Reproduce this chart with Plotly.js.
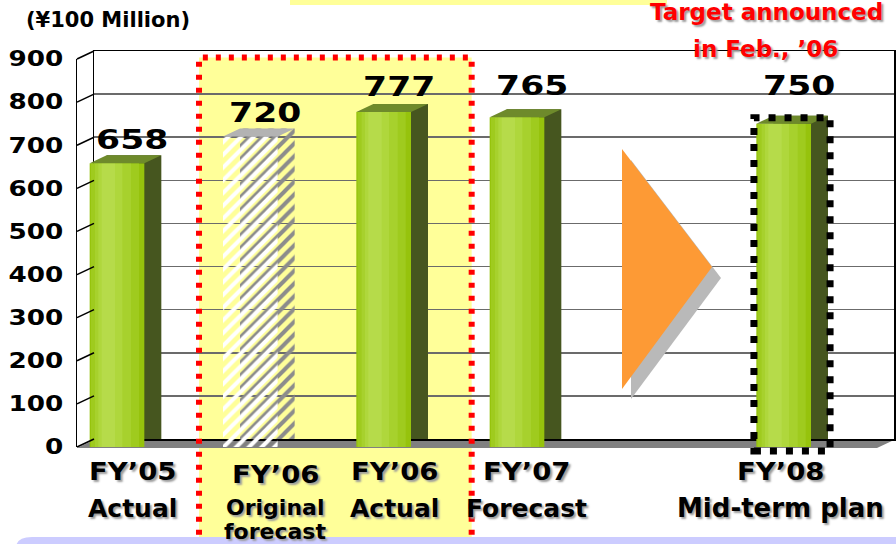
<!DOCTYPE html>
<html>
<head>
<meta charset="utf-8">
<script src="https://cdn.plot.ly/plotly-3.0.1.min.js"></script>
<style>
html,body{margin:0;padding:0;background:#fff;overflow:hidden}
#chart{width:896px;height:544px}
</style>
</head>
<body>
<div id="chart"></div>
<script>
// ---------------- data ----------------
const categories = ["FY’05 Actual", "FY’06 Original forecast", "FY’06 Actual", "FY’07 Forecast", "FY’08 Mid-term plan"];
const labelLine1 = ["FY’05", "FY’06", "FY’06", "FY’07", "FY’08"];
const labelLine2 = ["Actual", "Original", "Actual", "Forecast", "Mid-term plan"];
const labelLine3 = ["", "forecast", "", "", ""];
const values = [658, 720, 777, 765, 750];
const hatched = [false, true, false, false, false];
const yTicks = [0, 100, 200, 300, 400, 500, 600, 700, 800, 900];
const unitLabel = "(¥100 Million)";
const noteLines = ["Target announced", "in Feb., ’06"];

// ---------------- style / layout ----------------
const W = 896, H = 544;
const L = 77, R = 877, B = 447, T = 59;   // front plane (px)
const DX = 17, DY = 8;                     // depth offset (px)
const YMAX = 900;
const BARW = 0.41;
const FONT = "DejaVu Sans, Verdana, sans-serif";
const fx = px => px / W;
const fy = py => 1 - py / H;
const yFrontPx = v => B - v * (B - T) / YMAX;
const labelNudge = [15, 25, 11, 9, -3];
const valueLift = [24, 24, 26, 32, 38];

const slotOrder = categories.slice(0, 4).concat(["(arrow)"], categories.slice(4));
const slotIndex = c => slotOrder.indexOf(c);
const barHalfPx = BARW * (R - L) / slotOrder.length / 2;

const traces = [];
// back / side faces on the back (depth-shifted) subplot
traces.push({
  type: 'bar', x: categories, y: values, xaxis: 'x', yaxis: 'y', width: BARW,
  marker: {
    color: hatched.map(h => h ? '#8c8c8c' : '#46561f'),
    line: {width: 0},
    pattern: {shape: hatched.map(h => h ? '/' : ''), fgcolor: '#7a9a16', bgcolor: '#8c8c8c', size: 9, solidity: 0.45, fillmode: 'replace'}
  },
  hoverinfo: 'skip'
});
// front faces: base
traces.push({
  type: 'bar', x: categories, y: values, xaxis: 'x2', yaxis: 'y2', width: BARW,
  marker: {
    color: hatched.map(h => h ? '#ffffff' : '#96c30c'),
    line: {width: 0},
    pattern: {shape: hatched.map(h => h ? '/' : ''), fgcolor: '#99cc00', bgcolor: '#ffffff', size: 9, solidity: 0.45, fillmode: 'replace'}
  },
  hoverinfo: 'skip'
});
// front faces: gradient highlight layers
const gradLayers = [
  {w: 0.36, off: -0.195, c: '#9fcb1e'},
  {w: 0.27, off: -0.165, c: '#a7d12d'},
  {w: 0.18, off: -0.14, c: '#afd73c'},
  {w: 0.10, off: -0.115, c: '#b6db4a'}
];
gradLayers.forEach(g => {
  traces.push({
    type: 'bar', x: categories, y: values.map((v, i) => hatched[i] ? null : v),
    xaxis: 'x2', yaxis: 'y2', width: g.w, offset: g.off,
    marker: {color: g.c, line: {width: 0}}, hoverinfo: 'skip'
  });
});

const shapes = [];
// top yellow strip
shapes.push({type: 'rect', xref: 'paper', yref: 'paper', x0: fx(290), x1: fx(667), y0: fy(5), y1: fy(-5),
  fillcolor: '#ffff99', line: {width: 0}, layer: 'below'});
// yellow highlight behind FY'06 bars
const hiX0 = slotIndex(categories[1]) - 0.385, hiX1 = slotIndex(categories[2]) + 0.66;
shapes.push({type: 'rect', xref: 'x2', yref: 'paper', x0: hiX0, x1: hiX1, y0: fy(560), y1: fy(57.5),
  fillcolor: '#ffff99', line: {width: 0}, layer: 'below'});
// floor
shapes.push({type: 'path', xref: 'paper', yref: 'paper', layer: 'below',
  path: `M ${fx(L)},${fy(B + 1)} L ${fx(R)},${fy(B + 1)} L ${fx(R + DX)},${fy(B + 1 - DY)} L ${fx(L + DX)},${fy(B + 1 - DY)} Z`,
  fillcolor: '#808080', line: {width: 0}});
// bar top faces (parallelograms anchored on each bar's value)
categories.forEach((c, i) => {
  shapes.push({type: 'path', xref: 'x2', yref: 'y2', xsizemode: 'pixel', ysizemode: 'pixel',
    xanchor: c, yanchor: values[i], layer: 'above',
    path: `M ${-barHalfPx},0 L ${barHalfPx},0 L ${barHalfPx + DX},${DY} L ${-barHalfPx + DX},${DY} Z`,
    fillcolor: hatched[i] ? '#b3b3b3' : '#6e8a2b', line: {width: 0}});
});
// left wall tick connectors
yTicks.forEach(v => {
  const py = yFrontPx(v);
  shapes.push({type: 'line', xref: 'paper', yref: 'paper', x0: fx(L), y0: fy(py), x1: fx(L + DX), y1: fy(py - DY),
    line: {color: '#000', width: 1.5}, layer: 'above'});
});
// arrow shadow + arrow
shapes.push({type: 'path', xref: 'paper', yref: 'paper', layer: 'above',
  path: `M ${fx(631)},${fy(160)} L ${fx(721)},${fy(278)} L ${fx(631)},${fy(399)} Z`,
  fillcolor: '#b9b9b9', line: {width: 0}});
shapes.push({type: 'path', xref: 'paper', yref: 'paper', layer: 'above',
  path: `M ${fx(622)},${fy(149)} L ${fx(712)},${fy(267)} L ${fx(622)},${fy(389)} Z`,
  fillcolor: '#fd9a35', line: {width: 0}});
// red dotted border
shapes.push({type: 'rect', xref: 'x2', yref: 'paper', x0: hiX0, x1: hiX1, y0: fy(600), y1: fy(57.5),
  fillcolor: 'rgba(0,0,0,0)', line: {color: '#ff0000', width: 6, dash: '5px,8px'}, layer: 'above'});
// black dotted border around mid-term plan bar
const mtIdx = slotIndex(categories[4]);
shapes.push({type: 'rect', xref: 'x2', yref: 'paper', x0: mtIdx - 0.223, x1: mtIdx + 0.348,
  y0: fy(B + 4), y1: fy(yFrontPx(values[4]) - 6),
  fillcolor: 'rgba(0,0,0,0)', line: {color: '#000000', width: 7, dash: '7px,9px'}, layer: 'above'});
// bottom lavender box
shapes.push({type: 'path', xref: 'paper', yref: 'paper', layer: 'above',
  path: `M ${fx(16)},${fy(560)} L ${fx(16)},${fy(548)} Q ${fx(16)},${fy(537)} ${fx(32)},${fy(537)} L ${fx(910)},${fy(537)} L ${fx(910)},${fy(560)} Z`,
  fillcolor: '#ccccff', line: {width: 0}});

const annotations = [];
const shadow = '2px 2px 2px #9c9c9c';
const fyIdx = [], valueIdx = [];
// category labels
categories.forEach((c, i) => {
  const small = labelLine3[i] !== '';
  fyIdx.push(annotations.length);
  annotations.push({xref: 'x2', yref: 'paper', x: c, y: fy(small ? 474 : 471), xshift: labelNudge[i],
    text: labelLine1[i], showarrow: false, xanchor: 'center', yanchor: 'middle',
    font: {family: FONT, size: 25, weight: 700, color: '#000', shadow: shadow}});
  annotations.push({xref: 'x2', yref: 'paper', x: c, y: fy(small ? 507 : 508), xshift: labelNudge[i],
    text: labelLine2[i], showarrow: false, xanchor: 'center', yanchor: 'middle',
    font: {family: FONT, size: small ? 22 : (labelLine2[i].length > 9 ? 26 : 25), weight: 700, color: '#000', shadow: shadow}});
  if (small) {
    annotations.push({xref: 'x2', yref: 'paper', x: c, y: fy(531), xshift: labelNudge[i],
      text: labelLine3[i], showarrow: false, xanchor: 'center', yanchor: 'middle',
      font: {family: FONT, size: 22, weight: 700, color: '#000', shadow: shadow}});
  }
});
// value labels
categories.forEach((c, i) => {
  valueIdx.push(annotations.length);
  annotations.push({xref: 'x2', yref: 'y2', x: c, y: values[i], xshift: 15, yshift: valueLift[i],
    text: String(values[i]), showarrow: false, xanchor: 'center', yanchor: 'middle',
    font: {family: FONT, size: 27, weight: 700, color: '#000'}});
});
// unit label
annotations.push({xref: 'paper', yref: 'paper', x: fx(108), y: fy(20), text: unitLabel, showarrow: false,
  xanchor: 'center', yanchor: 'middle', font: {family: FONT, size: 21, weight: 700, color: '#000'}});
// red note
annotations.push({xref: 'paper', yref: 'paper', x: fx(766), y: fy(12), text: noteLines[0], showarrow: false,
  xanchor: 'center', yanchor: 'middle', font: {family: FONT, size: 23, weight: 700, color: '#ff0000', shadow: shadow}});
annotations.push({xref: 'paper', yref: 'paper', x: fx(765), y: fy(49), text: noteLines[1], showarrow: false,
  xanchor: 'center', yanchor: 'middle', font: {family: FONT, size: 23, weight: 700, color: '#ff0000', shadow: shadow}});

const layout = {
  width: W, height: H,
  margin: {l: 0, r: 0, t: 0, b: 0, pad: 0},
  paper_bgcolor: '#ffffff', plot_bgcolor: 'rgba(0,0,0,0)',
  showlegend: false, barmode: 'overlay',
  xaxis: {domain: [fx(L + DX), fx(R + DX)], type: 'category', categoryorder: 'array', categoryarray: slotOrder,
    range: [-0.3, 5.7], showticklabels: false, showgrid: false, zeroline: false,
    showline: true, mirror: true, linecolor: '#000', linewidth: 1.5, anchor: 'y', fixedrange: true},
  yaxis: {domain: [fy(B - DY), fy(T - DY)], range: [0, YMAX], tickvals: yTicks, showticklabels: false,
    showgrid: true, gridcolor: '#6b6b6b', gridwidth: 1.5, zeroline: false,
    showline: true, mirror: true, linecolor: '#000', linewidth: 1.5, anchor: 'x', fixedrange: true},
  xaxis2: {domain: [fx(L), fx(R)], type: 'category', categoryorder: 'array', categoryarray: slotOrder,
    range: [-0.3, 5.7], showticklabels: false, showgrid: false, zeroline: false, showline: false,
    anchor: 'y2', fixedrange: true},
  yaxis2: {domain: [fy(B), fy(T)], range: [0, YMAX], tickvals: yTicks, ticktext: yTicks.map(String),
    showgrid: false, zeroline: false, showline: true, linecolor: '#000', linewidth: 1.5,
    ticks: '', ticklabelstandoff: 8, anchor: 'x2', fixedrange: true,
    tickfont: {family: FONT, size: 21, weight: 700, color: '#000'}},
  shapes: shapes,
  annotations: annotations
};

// widen the numerals (the original uses a horizontally stretched face)
function stretch(el, f) {
  const len = el.getComputedTextLength();
  if (!len) return;
  el.setAttribute('textLength', (len * f).toFixed(1));
  el.setAttribute('lengthAdjust', 'spacingAndGlyphs');
}
Plotly.newPlot('chart', traces, layout, {staticPlot: true, displayModeBar: false}).then(gd => {
  gd.querySelectorAll('g.y2tick text').forEach(t => stretch(t, 1.25));
  valueIdx.forEach(i => {
    const t = gd.querySelector(`g.annotation[data-index="${i}"] text.annotation-text`);
    if (t) stretch(t, 1.28);
  });
  fyIdx.forEach(i => {
    const t = gd.querySelector(`g.annotation[data-index="${i}"] text.annotation-text`);
    if (t) stretch(t, 1.1);
  });
});
</script>
</body>
</html>
